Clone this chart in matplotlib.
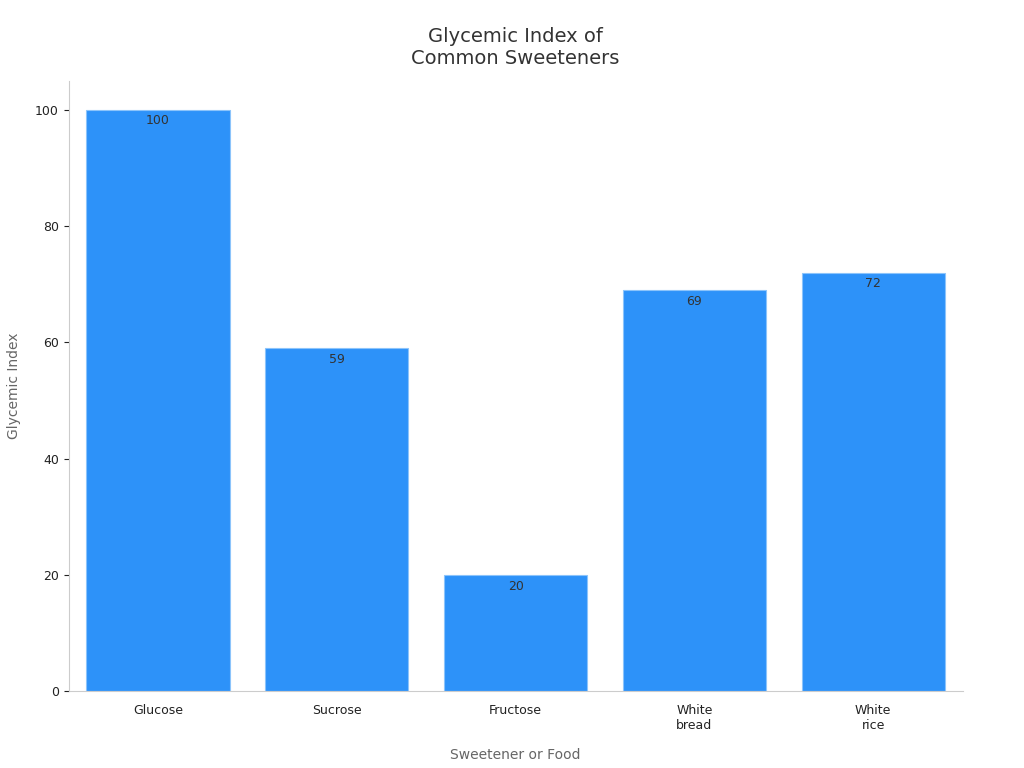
import matplotlib.pyplot as plt

categories = ["Glucose", "Sucrose", "Fructose", "White\nbread", "White\nrice"]
values = [100, 59, 20, 69, 72]

fig, ax = plt.subplots(figsize=(10.24, 7.68), dpi=100)
fig.subplots_adjust(left=0.067, right=0.94, top=0.895, bottom=0.1)

bars = ax.bar(range(len(categories)), values, width=0.8, color="#2d92f9",
              edgecolor="#8cc4fb", linewidth=0.8)
for i, v in enumerate(values):
    ax.text(i, v - 0.8, str(v), ha="center", va="top", fontsize=9, color="#333333")

ax.set_xticks(range(len(categories)))
ax.set_xticklabels(categories, fontsize=9, color="#222222")
ax.set_xlim(-0.5, 4.5)
ax.set_ylim(0, 105)
ax.set_yticks([0, 20, 40, 60, 80, 100])
ax.tick_params(axis="y", labelsize=9, colors="#222222")
ax.tick_params(axis="x", length=0, pad=9)
for s in ["top", "right"]:
    ax.spines[s].set_visible(False)
for s in ["left", "bottom"]:
    ax.spines[s].set_color("#cccccc")

ax.set_xlabel("Sweetener or Food", fontsize=10, color="#666666", labelpad=12)
ax.set_ylabel("Glycemic Index", fontsize=10, color="#666666", labelpad=10)
ax.set_title("Glycemic Index of\nCommon Sweeteners", fontsize=14, color="#333333", pad=12)

fig.savefig("out.png")
